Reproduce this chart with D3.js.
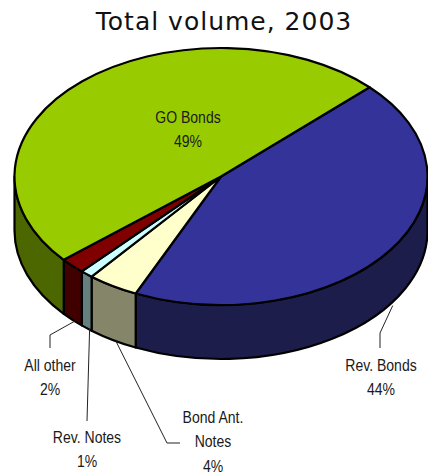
<!DOCTYPE html>
<html>
<head>
<meta charset="utf-8">
<script src="https://cdn.jsdelivr.net/npm/d3@7"></script>
<style>
  html, body { margin: 0; padding: 0; background: #fff; }
  svg { display: block; }
  .lbl { font-family: "Liberation Sans", Arial, sans-serif; font-size: 16.5px; fill: #1a1a1a; }
  .title { font-family: "DejaVu Sans", Verdana, sans-serif; font-size: 25px; letter-spacing: 1px; fill: #111; }
</style>
</head>
<body>
<svg id="chart" width="428" height="476"></svg>
<script>
// Share of total volume by instrument, 2003 (percent)
const categories = ["Rev. Bonds", "Bond Ant. Notes", "Rev. Notes", "All other", "GO Bonds"];
const values = [44, 4, 1, 2, 49];
const labelLines = [["Rev. Bonds"], ["Bond Ant.", "Notes"], ["Rev. Notes"], ["All other"], ["GO Bonds"]];
const topColors = ["#333399", "#ffffcc", "#ccffff", "#800000", "#99cc00"];
const sideColors = ["#1d1d4c", "#85856a", "#668080", "#400000", "#4c6600"];
const titleText = "Total volume, 2003";

const W = 428, H = 476;
const cx = 221, cy = 176.5, rx = 206.5, ry = 128.5, depth = 54;

const svg = d3.select("#chart");

// pie layout; d3 angles run clockwise from 12 o'clock
const pie = d3.pie().sort(null).value(d => d.v)
  .startAngle(46 * Math.PI / 180)
  .endAngle(46 * Math.PI / 180 + 2 * Math.PI);
const data = categories.map((c, i) => ({ c, v: values[i], i }));
const arcs = pie(data);

// convert d3 angle to screen parametric angle (0 = 3 o'clock, clockwise)
const toT = a => a - Math.PI / 2;
const pt = (t, dy = 0) => [cx + rx * Math.cos(t), cy + ry * Math.sin(t) + dy];

function topPath(t0, t1) {
  const p0 = pt(t0), p1 = pt(t1);
  const large = (t1 - t0) > Math.PI ? 1 : 0;
  return `M${cx},${cy}L${p0[0]},${p0[1]}A${rx},${ry} 0 ${large} 1 ${p1[0]},${p1[1]}Z`;
}
function sidePath(a, b) {
  const p0 = pt(a), p1 = pt(b), q1 = pt(b, depth), q0 = pt(a, depth);
  return `M${p0[0]},${p0[1]}A${rx},${ry} 0 0 1 ${p1[0]},${p1[1]}` +
         `L${q1[0]},${q1[1]}A${rx},${ry} 0 0 0 ${q0[0]},${q0[1]}Z`;
}
// portions of [t0,t1] lying on the visible front half (0..PI, modulo 2PI)
function frontRanges(t0, t1) {
  const out = [];
  for (let k = -1; k <= 1; k++) {
    const lo = Math.max(t0, 2 * Math.PI * k), hi = Math.min(t1, 2 * Math.PI * k + Math.PI);
    if (hi > lo + 1e-6) out.push([lo - 2 * Math.PI * k, hi - 2 * Math.PI * k]);
  }
  return out;
}

const g = svg.append("g");

// side walls
arcs.forEach(d => {
  frontRanges(toT(d.startAngle), toT(d.endAngle)).forEach(([a, b]) => {
    g.append("path").attr("d", sidePath(a, b))
      .attr("fill", sideColors[d.index]).attr("stroke", "#000")
      .attr("stroke-width", 2.2).attr("stroke-linejoin", "round");
  });
});
// top faces
arcs.forEach(d => {
  g.append("path").attr("d", topPath(toT(d.startAngle), toT(d.endAngle)))
    .attr("fill", topColors[d.index]).attr("stroke", "#000")
    .attr("stroke-width", 2.2).attr("stroke-linejoin", "round");
});

// label placement: text centre, first baseline, and leader bends
const layout = [
  { x: 381, y: 371, lead: [[380, 333], [380, 348]] },
  { x: 213, y: 423, lead: [[167, 443], [180, 443]] },
  { x: 87, y: 443, lead: [[87, 421]] },
  { x: 50, y: 371, lead: [[50, 335], [50, 348]] },
  { x: 188, y: 123, lead: null }
];
const lineGap = 24.5;
const narrow = 0.85;

arcs.forEach(d => {
  const L = layout[d.index];
  if (L.lead) {
    const tm = toT((d.startAngle + d.endAngle) / 2);
    const start = pt(tm, depth);
    const pts = [[start[0] + 3, start[1] + 1], ...L.lead];
    svg.append("path").attr("d", d3.line()(pts))
      .attr("fill", "none").attr("stroke", "#222").attr("stroke-width", 1);
  }
  const lines = [...labelLines[d.index], values[d.index] + "%"];
  // condensed label face: horizontal squeeze around the label centre
  const t = svg.append("text").attr("class", "lbl").attr("text-anchor", "middle")
    .attr("transform", `translate(${L.x},0) scale(${narrow},1)`);
  lines.forEach((s, k) => {
    t.append("tspan").attr("x", 0).attr("y", L.y + k * lineGap).text(s);
  });
});

svg.append("text").attr("class", "title")
  .attr("x", 224).attr("y", 30).attr("text-anchor", "middle").text(titleText);
</script>
</body>
</html>
